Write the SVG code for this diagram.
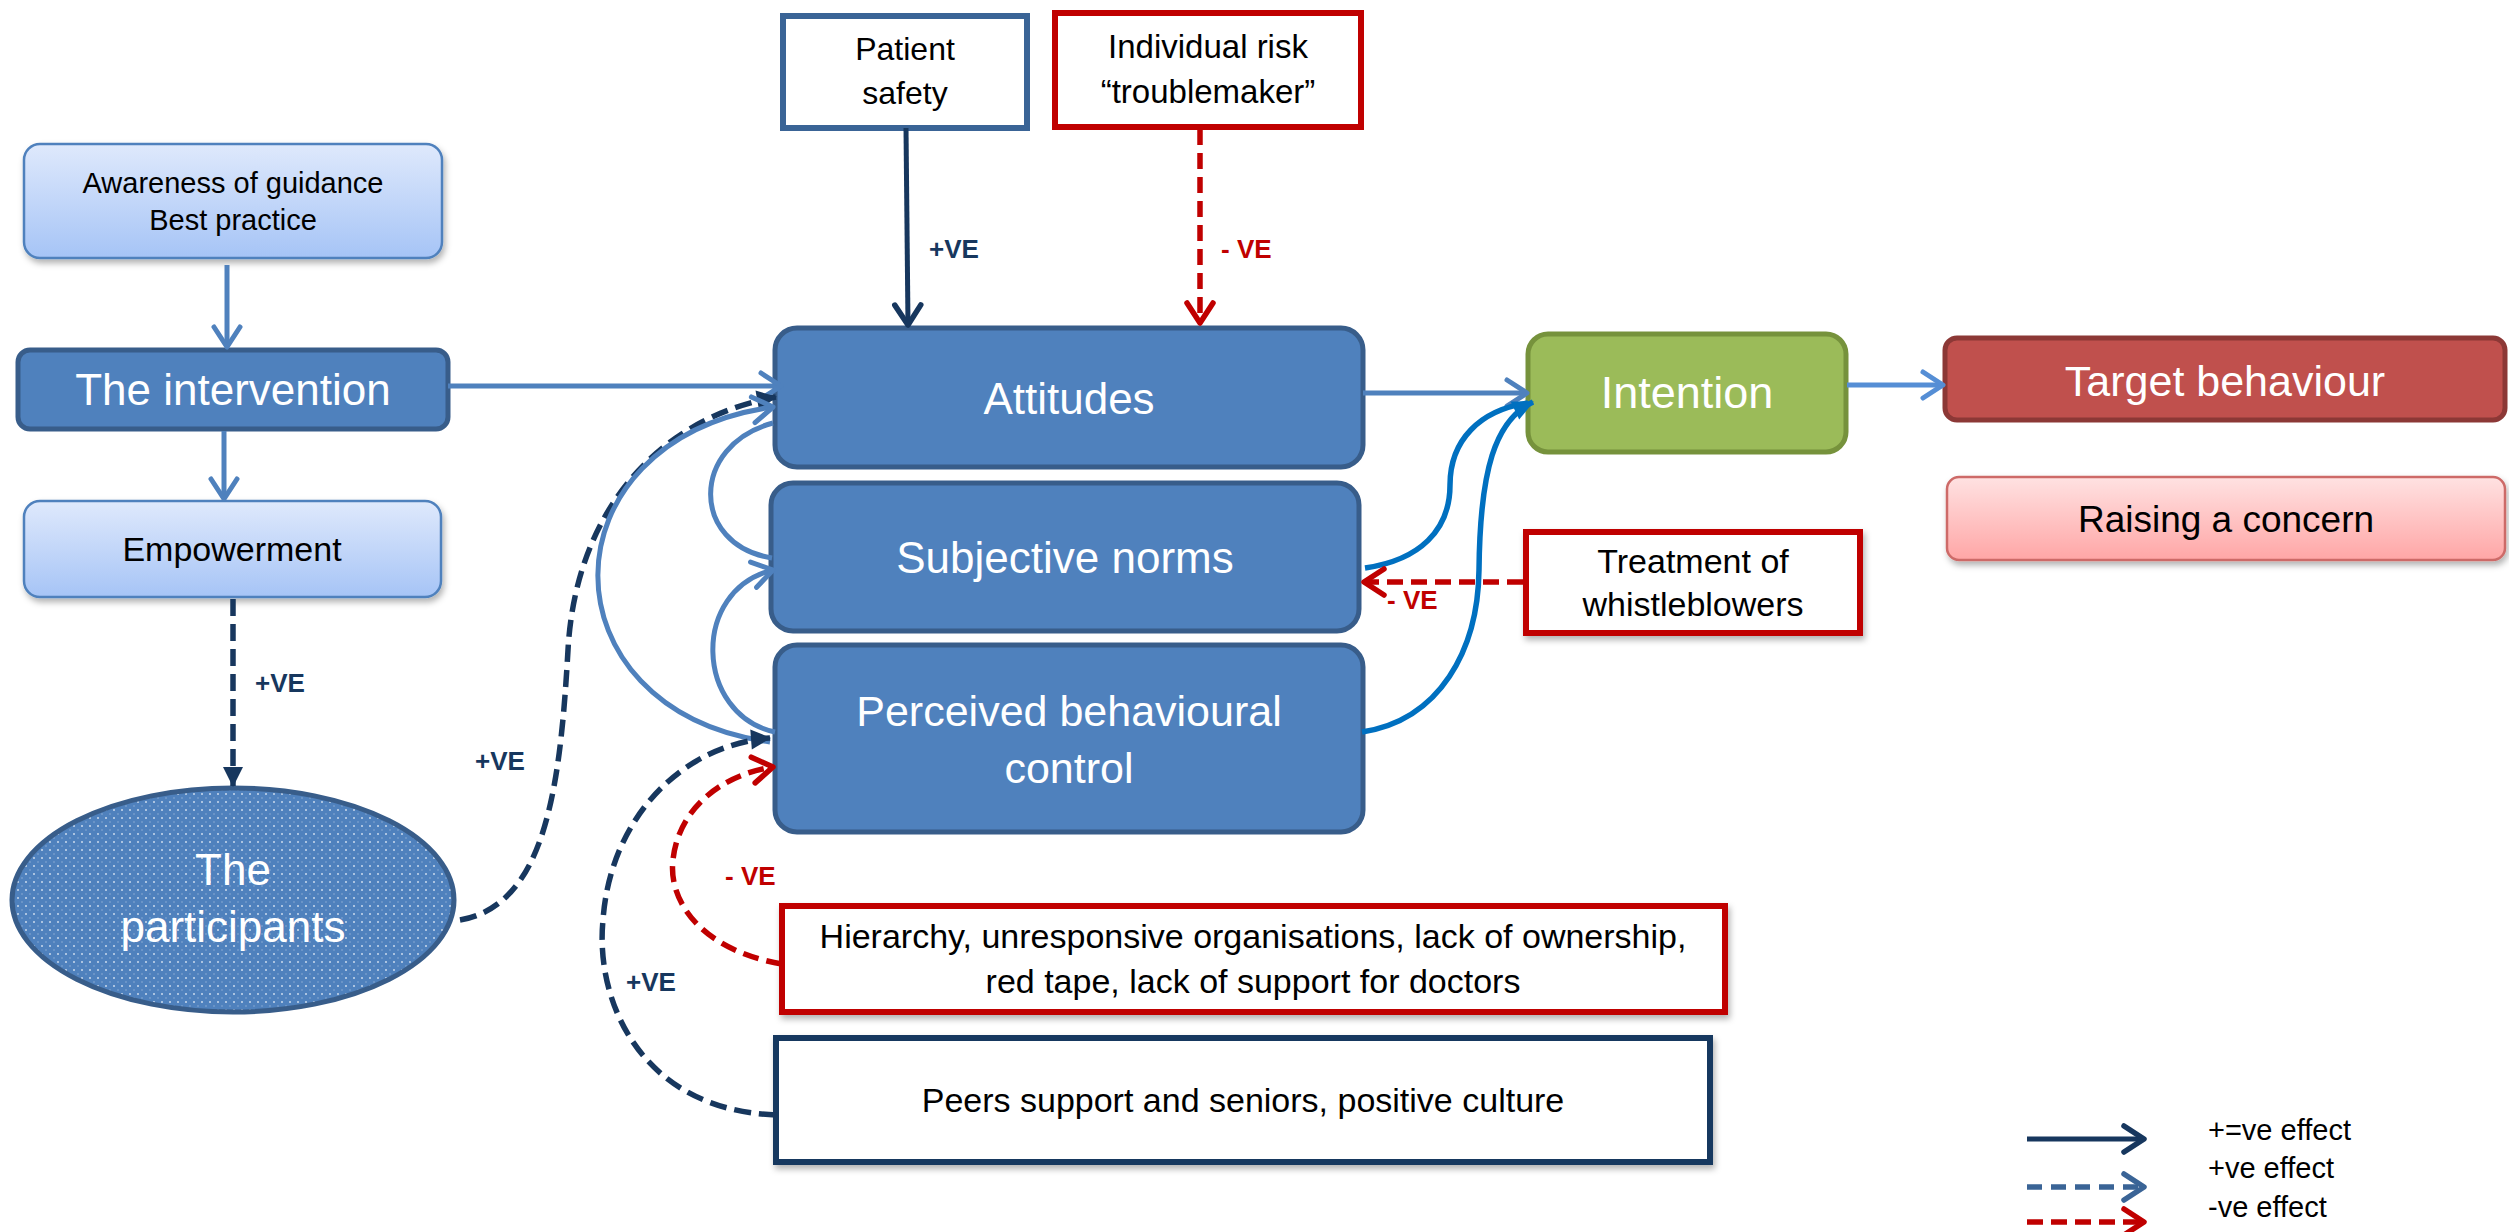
<svg xmlns="http://www.w3.org/2000/svg" width="2509" height="1232" viewBox="0 0 2509 1232">
<style>
text{font-family:"Liberation Sans",Arial,sans-serif;text-anchor:middle}
.w{fill:#ffffff}
.k{fill:#000000}
.lbl{font-weight:bold;font-size:26px;text-anchor:start}
.nv{fill:#17375e}
.rd{fill:#c00000}
.blue{fill:#4f81bd;stroke:#385d8a;stroke-width:5}
.wbox{fill:#ffffff;stroke-width:6}
.c{fill:none}
.lb{stroke:#4f81bd;stroke-width:5}
.navy{stroke:#17375e;stroke-width:5}
.navyd{stroke:#17375e;stroke-width:5.5;stroke-dasharray:17 8}
.redd{stroke:#c00000;stroke-width:5.5;stroke-dasharray:16 8}
.bb{stroke:#0070c0;stroke-width:5.5}
.leg{font-size:29px;text-anchor:start}
</style>
<defs>
<linearGradient id="gBlue" x1="0" y1="0" x2="0" y2="1"><stop offset="0" stop-color="#dfe9fc"/><stop offset="1" stop-color="#a6c4f6"/></linearGradient>
<linearGradient id="gPink" x1="0" y1="0" x2="0" y2="1"><stop offset="0" stop-color="#ffe2e2"/><stop offset="1" stop-color="#ffa6a6"/></linearGradient>
<pattern id="dots" width="8" height="8" patternUnits="userSpaceOnUse"><rect width="8" height="8" fill="#4f81bd"/><circle cx="2" cy="2" r="1" fill="#ffffff" fill-opacity="0.7"/><circle cx="6" cy="6" r="0.8" fill="#ffffff" fill-opacity="0.35"/></pattern>
<filter id="sh" x="-10%" y="-10%" width="120%" height="130%"><feDropShadow dx="2" dy="4" stdDeviation="3" flood-color="#000000" flood-opacity="0.3"/></filter>
<marker id="chLb" viewBox="-26 -16 30 32" refX="0" refY="0" markerWidth="30" markerHeight="32" markerUnits="userSpaceOnUse" orient="auto" overflow="visible"><path d="M-20,-13 L0,0 L-20,13" fill="none" stroke="#4f81bd" stroke-width="5" stroke-linecap="round" stroke-linejoin="round"/></marker>
<marker id="chLt" viewBox="-26 -16 30 32" refX="0" refY="0" markerWidth="30" markerHeight="32" markerUnits="userSpaceOnUse" orient="auto" overflow="visible"><path d="M-20,-13 L0,0 L-20,13" fill="none" stroke="#558ed5" stroke-width="5" stroke-linecap="round" stroke-linejoin="round"/></marker>
<marker id="chNv" viewBox="-26 -16 30 32" refX="0" refY="0" markerWidth="30" markerHeight="32" markerUnits="userSpaceOnUse" orient="auto" overflow="visible"><path d="M-20,-13 L0,0 L-20,13" fill="none" stroke="#17375e" stroke-width="5.5" stroke-linecap="round" stroke-linejoin="round"/></marker>
<marker id="chRd" viewBox="-26 -16 30 32" refX="0" refY="0" markerWidth="30" markerHeight="32" markerUnits="userSpaceOnUse" orient="auto" overflow="visible"><path d="M-20,-13 L0,0 L-20,13" fill="none" stroke="#c00000" stroke-width="5.5" stroke-linecap="round" stroke-linejoin="round"/></marker>
<marker id="chDb" viewBox="-26 -16 30 32" refX="0" refY="0" markerWidth="30" markerHeight="32" markerUnits="userSpaceOnUse" orient="auto" overflow="visible"><path d="M-20,-13 L0,0 L-20,13" fill="none" stroke="#3a6496" stroke-width="5.5" stroke-linecap="round" stroke-linejoin="round"/></marker>
<marker id="trNv" viewBox="-22 -12 24 24" refX="0" refY="0" markerWidth="24" markerHeight="24" markerUnits="userSpaceOnUse" orient="auto" overflow="visible"><path d="M-19,-10 L1,0 L-19,10 Z" fill="#17375e"/></marker>
<marker id="trBb" viewBox="-22 -12 24 24" refX="0" refY="0" markerWidth="24" markerHeight="24" markerUnits="userSpaceOnUse" orient="auto" overflow="visible"><path d="M-20,-10 L1,0 L-20,10 Z" fill="#0070c0"/></marker>
</defs>
<rect width="2509" height="1232" fill="#ffffff"/>

<g id="awareness">
<rect x="24" y="144" width="418" height="114" rx="16" fill="url(#gBlue)" stroke="#4f81bd" stroke-width="2.5" filter="url(#sh)"/>
<text class="k" x="233" y="193" font-size="29">Awareness of guidance</text>
<text class="k" x="233" y="230" font-size="29">Best practice</text>
</g>
<g id="intervention">
<rect class="blue" x="18" y="350" width="430" height="79" rx="12"/>
<text class="w" x="233" y="405" font-size="44">The intervention</text>
</g>
<g id="empowerment">
<rect x="24" y="501" width="417" height="96" rx="16" fill="url(#gBlue)" stroke="#4f81bd" stroke-width="2.5" filter="url(#sh)"/>
<text class="k" x="232" y="561" font-size="34">Empowerment</text>
</g>
<g id="participants">
<ellipse cx="233" cy="900" rx="221" ry="112" fill="url(#dots)" stroke="#385d8a" stroke-width="5"/>
<text class="w" x="233" y="885" font-size="44">The</text>
<text class="w" x="233" y="942" font-size="44">participants</text>
</g>
<g id="patient-safety">
<rect class="wbox" x="783" y="16" width="244" height="112" stroke="#3a6496" stroke-width="5"/>
<text class="k" x="905" y="60" font-size="32">Patient</text>
<text class="k" x="905" y="104" font-size="32">safety</text>
</g>
<g id="individual-risk">
<rect class="wbox" x="1055" y="13" width="306" height="114" stroke="#c00000"/>
<text class="k" x="1208" y="58" font-size="33">Individual risk</text>
<text class="k" x="1208" y="103" font-size="33">“troublemaker”</text>
</g>
<g id="attitudes">
<rect class="blue" x="775" y="328" width="588" height="139" rx="22"/>
<text class="w" x="1069" y="414" font-size="44">Attitudes</text>
</g>
<g id="subjective-norms">
<rect class="blue" x="771" y="483" width="588" height="148" rx="22"/>
<text class="w" x="1065" y="573" font-size="44">Subjective norms</text>
</g>
<g id="perceived-control">
<rect class="blue" x="775" y="645" width="588" height="187" rx="22"/>
<text class="w" x="1069" y="726" font-size="43">Perceived behavioural</text>
<text class="w" x="1069" y="783" font-size="43">control</text>
</g>
<g id="intention">
<rect x="1528" y="334" width="318" height="118" rx="20" fill="#9bbb59" stroke="#76923c" stroke-width="5"/>
<text class="w" x="1687" y="408" font-size="45">Intention</text>
</g>
<g id="treatment">
<rect class="wbox" x="1526" y="532" width="334" height="101" stroke="#c00000" filter="url(#sh)"/>
<text class="k" x="1693" y="573" font-size="34">Treatment of</text>
<text class="k" x="1693" y="616" font-size="34">whistleblowers</text>
</g>
<g id="target-behaviour">
<rect x="1945" y="338" width="560" height="82" rx="12" fill="#c0504d" stroke="#8c3836" stroke-width="5"/>
<text class="w" x="2225" y="396" font-size="43">Target behaviour</text>
</g>
<g id="raising-concern">
<rect x="1947" y="477" width="558" height="83" rx="12" fill="url(#gPink)" stroke="#cd6b68" stroke-width="2.5" filter="url(#sh)"/>
<text class="k" x="2226" y="532" font-size="37">Raising a concern</text>
</g>
<g id="hierarchy">
<rect class="wbox" x="782" y="906" width="943" height="106" stroke="#c00000" filter="url(#sh)"/>
<text class="k" x="1253" y="948" font-size="34">Hierarchy, unresponsive organisations, lack of ownership,</text>
<text class="k" x="1253" y="993" font-size="34">red tape, lack of support for doctors</text>
</g>
<g id="peers">
<rect class="wbox" x="776" y="1038" width="934" height="124" stroke="#17375e" filter="url(#sh)"/>
<text class="k" x="1243" y="1112" font-size="34">Peers support and seniors, positive culture</text>
</g>

<g id="connectors">
<path class="c lb" d="M227,265 L227,347" marker-end="url(#chLb)"/>
<path class="c lb" d="M224,431 L224,499" marker-end="url(#chLb)"/>
<path class="c lb" d="M448,386 L781,386" marker-end="url(#chLb)"/>
<path class="c navyd" d="M233,599 L233,786" marker-end="url(#trNv)"/>
<path class="c navyd" d="M460,920 C545,905 560,790 568,650 C575,520 650,420 776,397" marker-end="url(#trNv)"/>
<path class="c navy" d="M906,128 L908,325" marker-end="url(#chNv)"/>
<path class="c redd" d="M1200,129 L1200,323" marker-end="url(#chRd)"/>
<path class="c lb" d="M770,742 C540,710 540,440 773,407" marker-end="url(#chLb)"/>
<path class="c lb" d="M773,423 C690,445 690,545 772,558"/>
<path class="c lb" d="M775,732 C695,715 690,590 773,570" marker-end="url(#chLb)"/>
<path class="c navyd" d="M776,1115 C640,1110 595,1000 603,920 C610,820 680,745 770,738" marker-end="url(#trNv)"/>
<path class="c redd" d="M782,964 C700,950 668,900 673,860 C678,810 720,775 773,767" marker-end="url(#chRd)"/>
<path class="c lb" d="M1363,393 L1527,393" marker-end="url(#chLb)"/>
<path class="c bb" d="M1365,568 C1420,560 1450,530 1450,485 C1450,440 1480,410 1528,403"/>
<path class="c bb" d="M1362,732 C1440,720 1478,650 1479,570 C1480,470 1495,420 1533,402" marker-end="url(#trBb)"/>
<path class="c redd" d="M1523,582 L1364,582" marker-end="url(#chRd)"/>
<path class="c" stroke="#558ed5" stroke-width="5" d="M1847,385 L1943,385" marker-end="url(#chLt)"/>
</g>

<g id="edge-labels">
<text class="lbl nv" x="929" y="258">+VE</text>
<text class="lbl rd" x="1221" y="258">- VE</text>
<text class="lbl nv" x="255" y="692">+VE</text>
<text class="lbl nv" x="475" y="770">+VE</text>
<text class="lbl rd" x="1387" y="609">- VE</text>
<text class="lbl rd" x="725" y="885">- VE</text>
<text class="lbl nv" x="626" y="991">+VE</text>
</g>

<g id="legend">
<path class="c navy" d="M2027,1139 L2144,1139" marker-end="url(#chNv)"/>
<path class="c" stroke="#3a6496" stroke-width="5.5" stroke-dasharray="15 9" d="M2027,1187 L2144,1187" marker-end="url(#chDb)"/>
<path class="c redd" d="M2027,1222 L2144,1222" marker-end="url(#chRd)"/>
<text class="leg k" x="2208" y="1140">+=ve effect</text>
<text class="leg k" x="2208" y="1178">+ve effect</text>
<text class="leg k" x="2208" y="1217">-ve effect</text>
</g>
</svg>
